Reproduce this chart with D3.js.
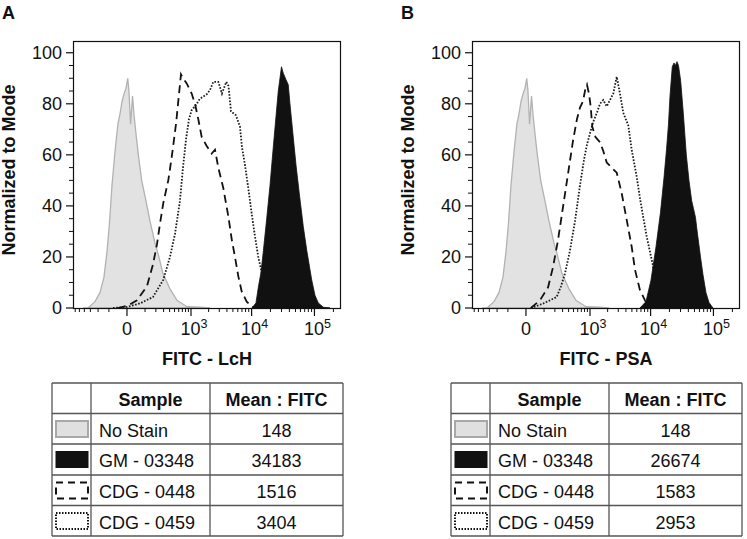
<!DOCTYPE html>
<html>
<head>
<meta charset="utf-8">
<script src="https://cdn.jsdelivr.net/npm/d3@7"></script>
<style>
  html, body { margin: 0; padding: 0; background: #fff; }
  svg { display: block; }
  text { font-family: Arial, "Liberation Sans", Helvetica, sans-serif; fill: #111; }
</style>
</head>
<body>
<svg id="chart" width="747" height="539"></svg>
<script>
// ---------------- DATA ----------------
// FITC intensity (x) vs Normalized to Mode (y)
const noStain = [[-420,0],[-337,0],[-237,2.5],[-180,6],[-141,12],[-115,22],[-96,33],[-78,48],[-59,61],[-42,72],[-31,76],[-21,81],[-12,84],[-4,86],[3,90],[8,85],[15,72],[24,83],[31,76],[42,68],[55,60],[76,50],[107,42],[141,34],[190,25.5],[228,21],[291,13.5],[407,7.5],[557,3],[849,0.5],[1430,0.3],[2110,0]];

// Panel A: FITC - LcH
const lchGM = [[10140,0],[11750,2],[12790,8],[14140,14],[15370,22],[17420,35],[19670,48],[22180,63],[24500,75],[26650,85],[28350,90],[29960,94.5],[32000,92],[35300,89.5],[38400,87.5],[40870,80],[45650,68],[51000,56],[57400,45],[66450,32],[76200,22],[90500,11],[102000,5],[115100,2],[138100,0.3],[176500,0]];
const lchCDG0448 = [[-42,0],[4,1],[47,3],[115,8.5],[169,17],[213,25],[250,33],[295,41],[376,50],[440,59],[533,72],[589,81],[661,91.5],[719,90],[839,88],[1027,84],[1173,80],[1337,74],[1527,67],[1856,63.5],[2250,60.5],[2550,62],[2890,55],[3490,47],[4210,36],[4780,27],[5400,20],[6110,12.5],[6930,6.5],[8340,2.5],[10140,0.5],[12650,0]];
const lchCDG0459 = [[-71,0],[0,0.4],[65,1.8],[169,4.3],[295,11],[407,20],[510,29],[633,42],[719,55],[815,66],[921,74],[1027,77.5],[1173,79],[1430,82],[1856,83.7],[2110,85.4],[2390,88.6],[2890,88.6],[3320,84],[3900,88.6],[4240,87],[4660,77],[5610,75.5],[6500,71],[7010,63],[7830,56],[8850,47],[10030,37],[11330,28],[12790,20],[14500,14],[16360,7],[18270,2],[21150,0]];

// Panel B: FITC - PSA
const psaGM = [[6750,0],[8430,2.5],[10140,10.9],[12200,24],[14390,37.5],[16360,51],[17940,62],[19300,72],[20400,83],[22180,94.5],[23620,96],[24950,95],[26360,96.5],[27850,95],[30170,89],[33190,76.5],[37080,60],[40870,50],[45150,42],[48200,39],[51870,35.5],[55830,29],[62340,20],[68300,13],[76200,6],[85020,2.2],[98300,0]];
const psaCDG0448 = [[21,0],[71,3],[132,8],[180,16],[237,26.5],[306,39.5],[389,52.5],[488,65.5],[581,74],[661,78.5],[750,81],[831,86],[884,87.5],[959,84],[1027,79],[1096,71],[1245,67],[1486,65],[1690,61.5],[1930,57],[2330,55],[2830,53],[3410,45],[4120,34.5],[4960,24],[5610,15],[6750,7],[8120,3],[9420,0.4],[10920,0]];
const psaCDG0459 = [[21,0],[92,1.7],[221,4.3],[277,8.5],[337,13.5],[426,22.5],[533,34],[661,48],[781,58],[884,64],[1000,68.5],[1141,73],[1320,76.5],[1486,80],[1690,81.5],[1930,79],[2190,81.5],[2480,84],[2830,90.6],[3200,84],[3620,76.5],[4370,71.5],[4960,62],[5970,51.5],[6750,43],[7630,35.5],[8660,28],[9780,22],[11040,16],[12650,8],[14660,2],[16980,0]];

// Table
const samples = ["No Stain", "GM - 03348", "CDG - 0448", "CDG - 0459"];
const meanLcH = [148, 34183, 1516, 3404];
const meanPSA = [148, 26674, 1583, 2953];
const tableHeaders = ["", "Sample", "Mean : FITC"];

// Ticks
const yMajorTicks = [0, 20, 40, 60, 80, 100];
const yMinorTicks = [5,10,15,25,30,35,45,50,55,65,70,75,85,90,95];
const xMajorTicks = [0, 1000, 10000, 100000];
const xTickBase = ["0", "10", "10", "10"];
const xTickExp = ["", "3", "4", "5"];
const xMinorTicks = [-600,-500,-400,-300,-200,-100,100,200,300,400,500,600,700,800,900,
  2000,3000,4000,5000,6000,7000,8000,9000,20000,30000,40000,50000,60000,70000,80000,90000,200000];

// ---------------- DRAW ----------------
const svg = d3.select("#chart");
const FONT = 18;

function drawPanel(ox, letter, xLabel, gm, cdg0448, cdg0459, means) {
  const g = svg.append("g");
  const left = 73 + ox, right = 341 + ox, top = 41, bottom = 308;

  const x = d3.scaleSymlog().constant(107).domain([-660, 263800]).range([left, right]);
  const y = d3.scaleLinear().domain([0, 104.6]).range([bottom, top]);

  const clipId = "clip" + letter;
  svg.append("clipPath").attr("id", clipId)
    .append("rect").attr("x", left).attr("y", top).attr("width", right - left).attr("height", bottom - top);

  const area = d3.area().x(d => x(d[0])).y0(y(0)).y1(d => y(d[1]));
  const line = d3.line().x(d => x(d[0])).y(d => y(d[1]));

  const plot = g.append("g").attr("clip-path", `url(#${clipId})`);
  plot.append("path").datum(noStain).attr("d", area)
    .attr("fill", "#e2e2e2").attr("stroke", "#b2b2b2").attr("stroke-width", 1.3);
  plot.append("path").datum(cdg0459).attr("d", line)
    .attr("fill", "none").attr("stroke", "#1a1a1a").attr("stroke-width", 1.8)
    .attr("stroke-dasharray", "1.6,1.6");
  plot.append("path").datum(cdg0448).attr("d", line)
    .attr("fill", "none").attr("stroke", "#111").attr("stroke-width", 1.8)
    .attr("stroke-dasharray", "8,5");
  plot.append("path").datum(gm).attr("d", area)
    .attr("fill", "#111").attr("stroke", "#111").attr("stroke-width", 0.8);

  // frame
  g.append("rect").attr("x", left + 0.5).attr("y", top + 0.5)
    .attr("width", right - left - 1).attr("height", bottom - top)
    .attr("fill", "none").attr("stroke", "#111").attr("stroke-width", 1.2);

  // y axis ticks
  g.selectAll(".ymaj").data(yMajorTicks).join("line")
    .attr("x1", left - 7).attr("x2", left).attr("y1", d => y(d)).attr("y2", d => y(d))
    .attr("stroke", "#111").attr("stroke-width", 1.2);
  g.selectAll(".ymin").data(yMinorTicks).join("line")
    .attr("x1", left - 4).attr("x2", left).attr("y1", d => y(d)).attr("y2", d => y(d))
    .attr("stroke", "#111").attr("stroke-width", 1);
  g.selectAll(".ylab").data(yMajorTicks).join("text")
    .attr("x", left - 11).attr("y", d => y(d)).attr("dy", "0.36em")
    .attr("text-anchor", "end").attr("font-size", FONT).text(d => d);

  // x axis ticks
  g.selectAll(".xmaj").data(xMajorTicks).join("line")
    .attr("x1", d => x(d)).attr("x2", d => x(d)).attr("y1", bottom).attr("y2", bottom + 8)
    .attr("stroke", "#111").attr("stroke-width", 1.2);
  g.selectAll(".xmin").data(xMinorTicks).join("line")
    .attr("x1", d => x(d)).attr("x2", d => x(d)).attr("y1", bottom).attr("y2", bottom + 4)
    .attr("stroke", "#111").attr("stroke-width", 1);
  const xl = g.selectAll(".xlab").data(xMajorTicks).join("text")
    .attr("x", (d, i) => x(d) + (i === 0 ? 0 : 3)).attr("y", 335)
    .attr("text-anchor", "middle").attr("font-size", FONT);
  xl.append("tspan").text((d, i) => xTickBase[i]);
  xl.append("tspan").attr("dy", -7).attr("font-size", 12.5).text((d, i) => xTickExp[i]);

  // axis titles
  g.append("text").attr("x", (left + right) / 2).attr("y", 365)
    .attr("text-anchor", "middle").attr("font-size", FONT).attr("font-weight", "bold").text(xLabel);
  g.append("text").attr("transform", `translate(${15 + ox},170) rotate(-90)`)
    .attr("text-anchor", "middle").attr("font-size", FONT).attr("font-weight", "bold")
    .text("Normalized to Mode");
  g.append("text").attr("x", 2 + ox).attr("y", 19)
    .attr("font-size", FONT).attr("font-weight", "bold").text(letter);

  // table
  const colX = [52 + ox, 91 + ox, 210 + ox, 343 + ox];
  const rowY = [383, 413.5, 444, 475, 505.5, 536];
  const tg = g.append("g");
  rowY.forEach(ry => tg.append("line").attr("x1", colX[0]).attr("x2", colX[3])
    .attr("y1", ry).attr("y2", ry).attr("stroke", "#555").attr("stroke-width", 1.3));
  colX.forEach(cx => tg.append("line").attr("x1", cx).attr("x2", cx)
    .attr("y1", rowY[0]).attr("y2", rowY[5]).attr("stroke", "#555").attr("stroke-width", 1.3));
  tg.append("text").attr("x", (colX[1] + colX[2]) / 2).attr("y", rowY[0] + 23)
    .attr("text-anchor", "middle").attr("font-size", FONT).attr("font-weight", "bold").text(tableHeaders[1]);
  tg.append("text").attr("x", (colX[2] + colX[3]) / 2).attr("y", rowY[0] + 23)
    .attr("text-anchor", "middle").attr("font-size", FONT).attr("font-weight", "bold").text(tableHeaders[2]);
  samples.forEach((s, i) => {
    const ry = rowY[i + 1];
    tg.append("text").attr("x", colX[1] + 8).attr("y", ry + 23)
      .attr("font-size", FONT).text(s);
    tg.append("text").attr("x", (colX[2] + colX[3]) / 2).attr("y", ry + 23)
      .attr("text-anchor", "middle").attr("font-size", FONT).text(means[i]);
    const sw = tg.append("rect").attr("x", colX[0] + 4).attr("y", ry + 7.5)
      .attr("width", 32).attr("height", 16);
    if (i === 0) sw.attr("fill", "#e0e0e0").attr("stroke", "#a8a8a8").attr("stroke-width", 2);
    if (i === 1) sw.attr("fill", "#111").attr("stroke", "#111").attr("stroke-width", 1);
    if (i === 2) sw.attr("fill", "none").attr("stroke", "#111").attr("stroke-width", 2).attr("stroke-dasharray", "7,5");
    if (i === 3) sw.attr("fill", "none").attr("stroke", "#111").attr("stroke-width", 2).attr("stroke-dasharray", "1.5,1.5");
  });
}

drawPanel(0, "A", "FITC - LcH", lchGM, lchCDG0448, lchCDG0459, meanLcH);
drawPanel(399, "B", "FITC - PSA", psaGM, psaCDG0448, psaCDG0459, meanPSA);
</script>
</body>
</html>
